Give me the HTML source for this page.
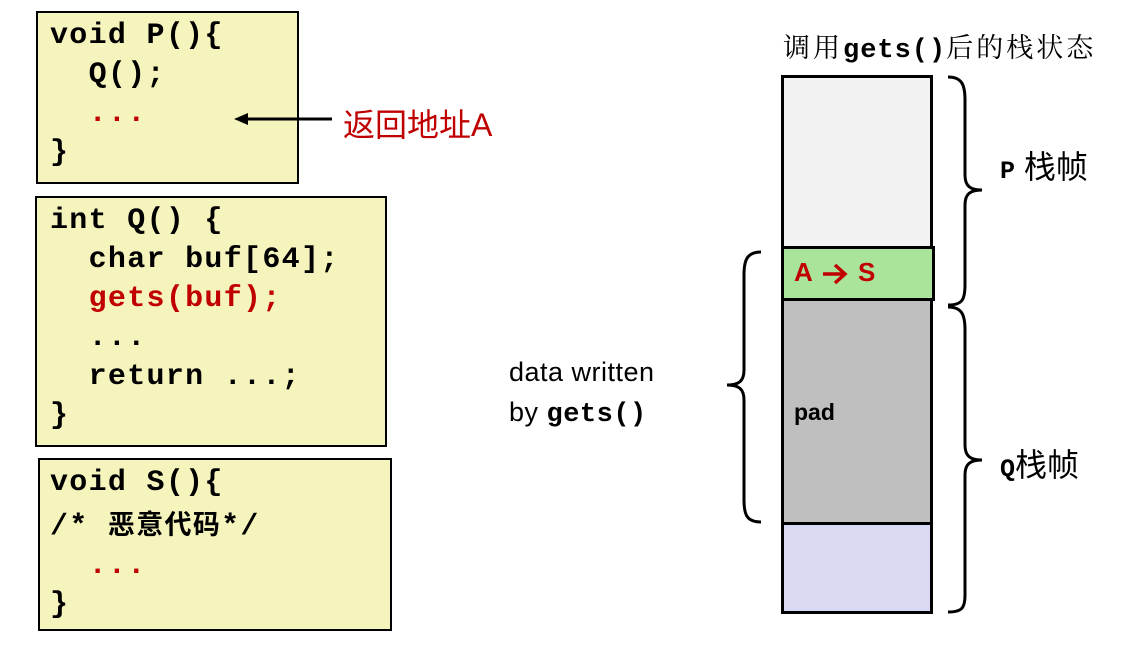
<!DOCTYPE html>
<html><head><meta charset="utf-8"><style>
body{margin:0;width:1143px;height:658px;background:#fff;position:relative;overflow:hidden;font-family:"Liberation Sans","Noto Sans CJK SC",sans-serif}
.box{position:absolute;background:#f6f4bd;border:2px solid #000;box-sizing:border-box}
.code{position:absolute;font-family:"Liberation Mono","Noto Sans CJK SC",monospace;font-weight:bold;font-size:30px;letter-spacing:1.3px;line-height:39px;white-space:pre;color:#000}
.r{color:#c00000}
.abs{position:absolute;white-space:nowrap}
.cell{position:absolute;left:781px;width:152px;box-sizing:border-box;border:3px solid #000}
</style></head><body>
<div class="box" style="left:36px;top:11px;width:263px;height:173px"></div>
<div class="code" style="left:50px;top:17px">void P(){
  Q();
  <span class="r">...</span>
}</div>
<div class="box" style="left:35px;top:196px;width:352px;height:251px"></div>
<div class="code" style="left:50px;top:202px">int Q() {
  char buf[64];
  <span class="r">gets(buf);</span>
  ...
  return ...;
}</div>
<div class="box" style="left:38px;top:458px;width:354px;height:173px"></div>
<div class="code" style="left:50px;top:464px">void S(){
/* <span style="font-family:'Noto Sans CJK SC',sans-serif;font-size:27px">恶意代码</span>*/
  <span class="r">...</span>
}</div>
<svg class="abs" style="left:0;top:0" width="1143" height="658">
<line x1="244" y1="119" x2="332" y2="119" stroke="#000" stroke-width="3"/>
<polygon points="234,119 248,113 248,125" fill="#000"/>
<path d="M948,77 C962,77 965,85 965,100 L965,175 C965,186 970,190 982,190 C970,190 965,194 965,205 L965,285 C965,300 962,305 948,305" fill="none" stroke="#000" stroke-width="3"/>
<path d="M948,307 C962,307 965,315 965,330 L965,445 C965,456 970,460 982,460 C970,460 965,464 965,475 L965,595 C965,608 962,612 948,612" fill="none" stroke="#000" stroke-width="3"/>
<path d="M761,252 C747,252 744,260 744,275 L744,370 C744,381 739,385 727,385 C739,385 744,389 744,400 L744,500 C744,515 747,522 761,522" fill="none" stroke="#000" stroke-width="3"/>
</svg>
<div class="cell" style="top:75px;height:174px;background:#f2f2f2"></div>
<div class="cell" style="top:246px;height:55px;background:#a9e49a;width:154px"></div>
<div class="cell" style="top:298px;height:227px;background:#bfbfbf"></div>
<div class="cell" style="top:522px;height:92px;background:#d9d9f3"></div>
<div class="abs" style="left:794px;top:257px;font-size:26px;font-weight:bold;color:#c00000">A</div>
<svg class="abs" style="left:820px;top:262px" width="30" height="24"><path d="M3,12 L25,12 M15,3 L25,12 L15,21" fill="none" stroke="#c00000" stroke-width="3.5"/></svg>
<div class="abs" style="left:858px;top:257px;font-size:26px;font-weight:bold;color:#c00000">S</div>
<div class="abs" style="left:794px;top:399px;font-size:23px;font-weight:bold">pad</div>
<div class="abs" style="left:343px;top:100px;font-size:32px;color:#c00000">返回地址A</div>
<div class="abs" style="left:783px;top:26px;font-size:27px;letter-spacing:3px;font-family:'Noto Serif CJK SC','Liberation Mono',serif">调用<span style="font-family:'Liberation Mono';font-weight:bold;letter-spacing:1px">gets()</span>后的栈状态</div>
<div class="abs" style="left:1000px;top:142px;font-size:32px"><span style="font-family:'Liberation Mono';font-weight:bold;font-size:25px">P</span> 栈帧</div>
<div class="abs" style="left:1000px;top:440px;font-size:32px"><span style="font-family:'Liberation Mono';font-weight:bold;font-size:25px">Q</span>栈帧</div>
<div class="abs" style="left:509px;top:352px;font-size:27px;line-height:40px;letter-spacing:0.5px">data written<br>by <span style="font-family:'Liberation Mono';font-weight:bold">gets()</span></div>
</body></html>
